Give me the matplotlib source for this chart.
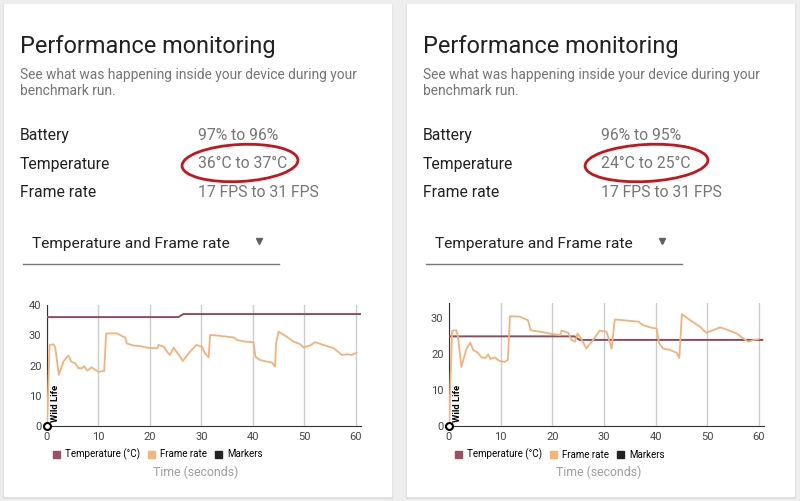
import matplotlib
matplotlib.use("Agg")
import matplotlib.pyplot as plt
from matplotlib.patches import Rectangle, Ellipse, Patch

plt.rcParams["font.family"] = ["Roboto", "DejaVu Sans"]

# --- data ---
summary_labels = ["Battery", "Temperature", "Frame rate"]
left_values = ["97% to 96%", "36°C to 37°C", "17 FPS to 31 FPS"]
right_values = ["96% to 95%", "24°C to 25°C", "17 FPS to 31 FPS"]

left_fr_t = [0, 0.5, 1.3, 1.6, 2.3, 3.2, 3.9, 4.2, 4.7, 5.5, 6.1, 6.8, 7.2, 7.8,
             8.7, 9.4, 10.0, 11.1, 11.5, 13.6, 15.2, 15.5, 16.8, 18.1, 19.7,
             21.4, 21.7, 22.7, 23.3, 23.9, 24.6, 25.6, 26.4, 27.5, 29.0, 30.1,
             30.7, 31.4, 31.7, 33.0, 36.2, 37.0, 38.5, 40.1, 40.5, 41.4, 42.7,
             43.7, 44.3, 44.5, 45.0, 46.6, 47.9, 49.2, 49.8, 51.1, 52.1, 53.7,
             55.7, 57.3, 58.3, 59.2, 60.1]
left_fr_v = [0, 26.8, 27.0, 26.0, 16.9, 21.3, 22.9, 23.2, 21.3, 20.7, 19.1, 19.1,
             19.8, 18.3, 19.4, 18.5, 17.9, 18.2, 30.6, 30.6, 29.2, 27.3, 26.6,
             26.4, 25.8, 25.7, 26.8, 26.2, 24.6, 23.5, 25.9, 23.5, 21.5, 24.0,
             26.8, 26.2, 24.0, 22.7, 30.1, 29.9, 29.3, 28.4, 27.9, 27.7, 22.9,
             21.8, 21.3, 21.0, 19.6, 27.3, 31.2, 29.5, 27.9, 27.0, 26.0, 26.6,
             27.7, 26.8, 25.7, 23.5, 23.7, 23.5, 24.2]
left_temp_t = [0, 25.5, 26.5, 60.8]
left_temp_v = [36, 36, 37, 37]

right_fr_t = [0, 0.6, 1.4, 1.7, 2.4, 3.4, 4.1, 4.7, 5.6, 6.3, 7.1, 7.6, 8.0, 8.9,
              9.8, 10.8, 11.4, 11.8, 13.7, 15.3, 15.8, 17.6, 19.5, 21.5, 21.8,
              23.1, 23.7, 24.4, 24.9, 25.7, 26.6, 27.9, 29.2, 30.5, 31.5, 32.1,
              33.7, 36.7, 37.6, 38.9, 40.2, 40.7, 41.5, 42.8, 44.1, 44.6, 45.1,
              46.7, 48.6, 49.8, 50.9, 52.5, 53.8, 55.7, 57.3, 58.0, 59.0, 59.9]
right_fr_v = [0, 26.6, 26.7, 25.3, 16.5, 21.6, 23.2, 21.2, 20.4, 19.1, 19.0,
              20.0, 18.7, 19.1, 18.1, 17.9, 18.4, 30.6, 30.5, 29.5, 26.7, 26.3,
              25.8, 25.3, 26.6, 26.0, 24.0, 23.5, 25.8, 24.1, 21.6, 24.0, 26.6,
              26.3, 21.6, 29.7, 29.5, 29.1, 28.1, 27.5, 27.2, 23.0, 21.6, 21.2,
              20.4, 19.0, 31.2, 29.5, 27.7, 26.0, 26.6, 27.5, 26.9, 25.8, 24.1,
              23.5, 24.0, 24.2]
right_temp_t = [0, 24.3, 25.3, 60.7]
right_temp_v = [25, 25, 24, 24]

left_yticks = [0, 10, 20, 30, 40]
right_yticks = [0, 10, 20, 30]
xticks = [0, 10, 20, 30, 40, 50, 60]

TEMP_C = "#8f4b5e"
FPS_C = "#f4b27a"
DARK = "#212121"
GREY = "#757575"

fig = plt.figure(figsize=(8, 5.01), dpi=100)
fig.patch.set_facecolor("#eeeeee")

# full-figure overlay in pixel coordinates for the card text
bg = fig.add_axes([0, 0, 1, 1])
bg.set_xlim(0, 800)
bg.set_ylim(501, 0)
bg.axis("off")


def draw_card(x0, values, circle_w, chart_box, fr_t, fr_v, temp_t, temp_v,
              ylim, yticks):
    bg.add_patch(Rectangle((x0 - 1, 4), 389, 494, color="#dddddd", zorder=0))
    bg.add_patch(Rectangle((x0, 4), 387, 492, color="white", zorder=1))
    tx = x0 + 16
    bg.text(tx, 53, "Performance monitoring", fontsize=16.9, color=DARK, zorder=2)
    bg.text(tx, 79, "See what was happening inside your device during your",
            fontsize=9.95, color=GREY, zorder=2)
    bg.text(tx, 94.5, "benchmark run.", fontsize=9.95, color=GREY, zorder=2)
    for i, (lab, val) in enumerate(zip(summary_labels, values)):
        y = 140 + i * 28.5
        bg.text(tx, y, lab, fontsize=11.3, color=DARK, zorder=2)
        bg.text(x0 + 194, y, val, fontsize=11.3, color=GREY, zorder=2)
    # hand drawn highlight around the temperature range
    bg.add_patch(Ellipse((x0 + 236 + circle_w / 2 - 58, 163), circle_w, 37,
                         angle=-3, fill=False, ec="#c4161c", lw=2, zorder=3))
    # dropdown
    bg.text(x0 + 28, 247.5, "Temperature and Frame rate", fontsize=11.15,
            color=DARK, zorder=2)
    bg.plot([x0 + 255], [241], marker="v", ms=5, color="#616161", zorder=2)
    bg.plot([x0 + 19, x0 + 275], [264, 264], color="#757575", lw=1, zorder=2)

    ax = fig.add_axes(chart_box)
    ax.set_facecolor("none")
    ax.plot(temp_t, temp_v, color=TEMP_C, lw=1.4, zorder=3)
    ax.plot(fr_t, fr_v, color=FPS_C, lw=1.3, zorder=4)
    ax.plot([0], [0], marker="o", ms=5, mfc="white", mec="black", mew=1.5,
            clip_on=False, zorder=6)
    ax.annotate("Wild Life", xy=(0, 0), xytext=(3, 3), textcoords="offset points",
                rotation=90, ha="left", va="bottom", fontsize=6.8,
                fontweight="bold", color="black", zorder=6)
    ax.set_xlim(0, 61)
    ax.set_ylim(*ylim)
    ax.set_xticks(xticks)
    ax.set_yticks(yticks)
    ax.grid(axis="x", color="#cccccc", lw=1)
    ax.grid(axis="y", visible=False)
    ax.tick_params(length=0, labelsize=8, labelcolor="#444444", pad=4)
    for s in ["top", "right"]:
        ax.spines[s].set_visible(False)
    ax.spines["left"].set_color("#333333")
    ax.spines["bottom"].set_color("#333333")
    handles = [Patch(color="#9b5066", label="Temperature (°C)"),
               Patch(color="#f7b477", label="Frame rate"),
               Patch(color="#222222", label="Markers")]
    ax.legend(handles=handles, loc="upper left", bbox_to_anchor=(0.013, -0.17),
              ncol=3, frameon=False, fontsize=7, handlelength=0.75,
              handleheight=0.75, handletextpad=0.5, columnspacing=0.8,
              borderaxespad=0, borderpad=0.2)
    ax.text(0.475, -0.38, "Time (seconds)", transform=ax.transAxes, ha="center",
            va="center", fontsize=8.8, color="#9e9e9e")
    return ax


draw_card(4, left_values, 116, [47 / 800, 1 - 426 / 501, 314 / 800, 121 / 501],
          left_fr_t, left_fr_v, left_temp_t, left_temp_v, (0, 40), left_yticks)
draw_card(407, right_values, 123, [449 / 800, 1 - 426 / 501, 315 / 800, 123 / 501],
          right_fr_t, right_fr_v, right_temp_t, right_temp_v, (0, 34.3), right_yticks)

fig.savefig("out.png", dpi=100, facecolor=fig.get_facecolor())
